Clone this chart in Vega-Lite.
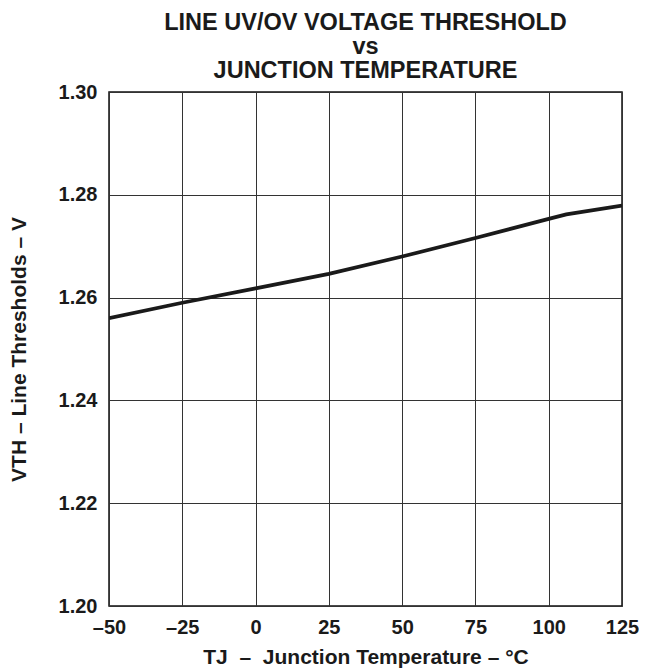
{
  "$schema": "https://vega.github.io/schema/vega-lite/v6.json",
  "autosize": "none",
  "padding": {"left": 109, "top": 92, "right": 24, "bottom": 65},
  "width": 513,
  "height": 514,
  "background": "white",
  "config": {
    "font": "Liberation Sans",
    "view": {"stroke": "#111111", "strokeWidth": 1.5},
    "axis": {
      "grid": true,
      "gridColor": "#333333",
      "gridWidth": 1,
      "gridOpacity": 1,
      "domain": false,
      "ticks": false,
      "labelFont": "Liberation Sans",
      "labelFontWeight": "bold",
      "labelFontSize": 20,
      "labelColor": "#1a1a1a",
      "titleFont": "Liberation Sans",
      "titleFontWeight": "bold",
      "titleFontSize": 21,
      "titleColor": "#1a1a1a"
    }
  },
  "title": {
    "text": ["LINE UV/OV VOLTAGE THRESHOLD", "vs", "JUNCTION TEMPERATURE"],
    "font": "Liberation Sans",
    "fontWeight": "bold",
    "fontSize": 23.5,
    "lineHeight": 24,
    "color": "#1a1a1a",
    "anchor": "middle",
    "offset": 0
  },
  "data": {
    "values": [
      {"temp": -50, "vth": 1.256},
      {"temp": -25, "vth": 1.259},
      {"temp": 0, "vth": 1.2618},
      {"temp": 25, "vth": 1.2646},
      {"temp": 50, "vth": 1.268},
      {"temp": 75, "vth": 1.2716},
      {"temp": 100, "vth": 1.2753},
      {"temp": 106, "vth": 1.2762},
      {"temp": 125, "vth": 1.2779}
    ]
  },
  "mark": {"type": "line", "color": "#1a1a1a", "strokeWidth": 3.8, "strokeCap": "butt", "clip": true},
  "encoding": {
    "x": {
      "field": "temp",
      "type": "quantitative",
      "scale": {"domain": [-50, 125], "nice": false, "zero": false},
      "axis": {
        "values": [-50, -25, 0, 25, 50, 75, 100, 125],
        "labelExpr": "replace(datum.label, '−', '–')",
        "labelPadding": 11,
        "labelFlush": false,
        "title": "TJ\u00a0 –\u00a0 Junction Temperature – °C",
        "titlePadding": 9
      }
    },
    "y": {
      "field": "vth",
      "type": "quantitative",
      "scale": {"domain": [1.2, 1.3], "nice": false, "zero": false},
      "axis": {
        "values": [1.2, 1.22, 1.24, 1.26, 1.28, 1.3],
        "format": ".2f",
        "labelPadding": 12,
        "labelFlush": false,
        "title": "VTH – Line Thresholds – V",
        "titlePadding": 29
      }
    }
  }
}
